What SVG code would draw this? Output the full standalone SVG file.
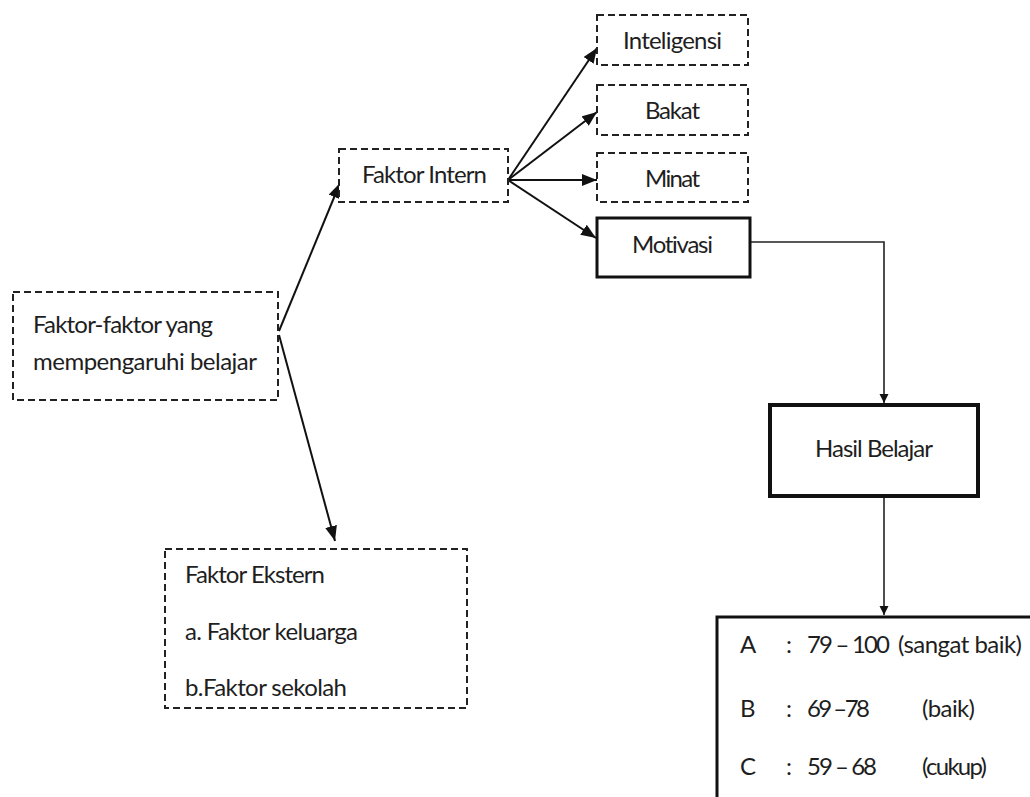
<svg xmlns="http://www.w3.org/2000/svg" width="1030" height="797" viewBox="0 0 1030 797">
<style>
.dash{fill:#fff;stroke:#222;stroke-width:2;stroke-dasharray:7 4}
.solid{fill:#fff;stroke:#111}
.t{font-family:Lato,"Liberation Sans",sans-serif;font-size:24px;fill:#1e1e1e;font-variant-ligatures:none}
.c{text-anchor:middle}
.ln{stroke:#111;stroke-width:2;fill:none}
.ln2{stroke:#222;stroke-width:1.6;fill:none}
</style>
<defs>
<marker id="ah" markerUnits="userSpaceOnUse" markerWidth="16" markerHeight="12" refX="15" refY="6" orient="auto">
<path d="M0,0 L15,6 L0,12 Z" fill="#111"/>
</marker>
<marker id="as" markerUnits="userSpaceOnUse" markerWidth="10" markerHeight="10" refX="9" refY="5" orient="auto">
<path d="M0,0.5 L9,5 L0,9.5 Z" fill="#111"/>
</marker>
</defs>
<rect width="1030" height="797" fill="#fff"/>
<g id="connectors">
<line class="ln" x1="279" y1="331" x2="340" y2="183" marker-end="url(#ah)"/>
<line class="ln" x1="279" y1="335" x2="335" y2="541" marker-end="url(#ah)"/>
<line class="ln" x1="508" y1="180" x2="597" y2="48" marker-end="url(#ah)"/>
<line class="ln" x1="508" y1="180" x2="597" y2="112" marker-end="url(#ah)"/>
<line class="ln" x1="508" y1="180" x2="597" y2="180" marker-end="url(#ah)"/>
<line class="ln" x1="508" y1="180" x2="596" y2="238" marker-end="url(#ah)"/>
<polyline class="ln2" points="750,242 884,242 884,403" marker-end="url(#as)"/>
<line class="ln2" x1="884" y1="496" x2="884" y2="615" marker-end="url(#as)"/>
</g>
<g id="node-main">
<rect class="dash" x="13" y="292" width="265" height="108"/>
<text class="t" x="33" y="333" textLength="180">Faktor-faktor yang</text>
<text class="t" x="33" y="370" textLength="224">mempengaruhi belajar</text>
</g>
<g id="node-intern">
<rect class="dash" x="339" y="149" width="169" height="53"/>
<text class="t c" x="424.5" y="183" textLength="125">Faktor Intern</text>
</g>
<g id="node-inteligensi">
<rect class="dash" x="597" y="15" width="151" height="50"/>
<text class="t c" x="672.5" y="49" textLength="99">Inteligensi</text>
</g>
<g id="node-bakat">
<rect class="dash" x="597" y="85" width="151" height="50"/>
<text class="t c" x="672.5" y="119" textLength="55">Bakat</text>
</g>
<g id="node-minat">
<rect class="dash" x="597" y="153" width="151" height="49"/>
<text class="t c" x="672.5" y="187" textLength="55">Minat</text>
</g>
<g id="node-motivasi">
<rect class="solid" x="597" y="218" width="153" height="59" stroke-width="3"/>
<text class="t c" x="672.5" y="253" textLength="81">Motivasi</text>
</g>
<g id="node-hasil">
<rect class="solid" x="770" y="405" width="208" height="91" stroke-width="4"/>
<text class="t c" x="874" y="457" textLength="118">Hasil Belajar</text>
</g>
<g id="node-ekstern">
<rect class="dash" x="165" y="549" width="302" height="159"/>
<text class="t" x="185" y="583" textLength="140">Faktor Ekstern</text>
<text class="t" x="185" y="640" textLength="173">a. Faktor keluarga</text>
<text class="t" x="185" y="696" textLength="162">b.Faktor sekolah</text>
</g>
<g id="node-nilai">
<rect class="solid" x="717" y="617" width="400" height="300" stroke-width="3"/>
<text class="t" x="740" y="653">A</text>
<text class="t" x="786" y="653">:</text>
<text class="t" x="807" y="653" textLength="83">79 – 100</text>
<text class="t" x="898" y="653" textLength="124">(sangat baik)</text>
<text class="t" x="740" y="717">B</text>
<text class="t" x="786" y="717">:</text>
<text class="t" x="807" y="717" textLength="63">69 –78</text>
<text class="t" x="922" y="717" textLength="53">(baik)</text>
<text class="t" x="740" y="775">C</text>
<text class="t" x="786" y="775">:</text>
<text class="t" x="807" y="775" textLength="70">59 – 68</text>
<text class="t" x="922" y="775" textLength="65">(cukup)</text>
</g>
</svg>
